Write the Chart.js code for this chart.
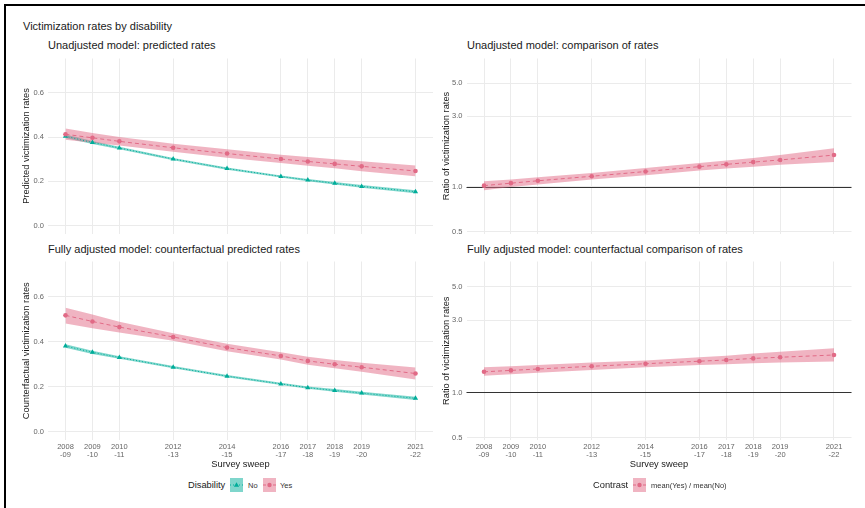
<!DOCTYPE html>
<html>
<head>
<meta charset="utf-8">
<title>Victimization rates by disability</title>
<script src="https://cdn.jsdelivr.net/npm/chart.js@4.4.1/dist/chart.umd.min.js"></script>
<style>
  body { margin: 0; width: 865px; height: 508px; background: #fff; position: relative; overflow: hidden;
         font-family: "Liberation Sans", Arial, sans-serif; }
  .frame { position: absolute; left: 4px; top: 4px; width: 900px; height: 600px;
           border-top: 2px solid #000; border-left: 2px solid #000; }
  canvas { position: absolute; }
  .txt { position: absolute; white-space: nowrap; color: #1a1a1a; line-height: 1; }
  .ttl { font-size: 11px; }
  .lgt { font-size: 9.3px; }
  .lgl { font-size: 7.5px; color: #333; }
  .key { position: absolute; }
</style>
</head>
<body>
<div class="frame"></div>

<div class="txt ttl" style="left:23px; top:20.6px">Victimization rates by disability</div>
<div class="txt ttl" style="left:48px; top:40.2px">Unadjusted model: predicted rates</div>
<div class="txt ttl" style="left:467px; top:40.2px">Unadjusted model: comparison of rates</div>
<div class="txt ttl" style="left:48px; top:243.8px">Fully adjusted model: counterfactual predicted rates</div>
<div class="txt ttl" style="left:467px; top:243.8px">Fully adjusted model: counterfactual comparison of rates</div>

<canvas id="unadjRates" width="440" height="192" style="left:0; top:50px"></canvas>
<canvas id="unadjRatios" width="435" height="192" style="left:430px; top:50px"></canvas>
<canvas id="adjRates" width="440" height="222" style="left:0; top:253px"></canvas>
<canvas id="adjRatios" width="435" height="222" style="left:430px; top:253px"></canvas>

<!-- legends -->
<div class="txt lgt" style="left:188px; top:481.3px">Disability</div>
<svg class="key" style="left:230px; top:478px" width="13" height="14">
  <rect width="13" height="14" fill="rgba(0,173,154,0.5)"/>
  <line x1="0" y1="7" x2="13" y2="7" stroke="#00AD9A" stroke-width="1" stroke-dasharray="1 2"/>
  <polygon points="6.5,4.3 9.1,8.8 3.9,8.8" fill="#00AD9A"/>
</svg>
<div class="txt lgl" style="left:248px; top:481.5px">No</div>
<svg class="key" style="left:263px; top:478px" width="13" height="14">
  <rect width="13" height="14" fill="rgba(225,106,134,0.5)"/>
  <line x1="0" y1="7" x2="13" y2="7" stroke="#E16A86" stroke-width="1" stroke-dasharray="3 2"/>
  <circle cx="6.5" cy="7" r="2.2" fill="#E16A86"/>
</svg>
<div class="txt lgl" style="left:280px; top:481.5px">Yes</div>

<div class="txt lgt" style="left:593px; top:481.3px">Contrast</div>
<svg class="key" style="left:633px; top:478px" width="13" height="14">
  <rect width="13" height="14" fill="rgba(225,106,134,0.5)"/>
  <line x1="0" y1="7" x2="13" y2="7" stroke="#E16A86" stroke-width="1" stroke-dasharray="3 2"/>
  <circle cx="6.5" cy="7" r="2.2" fill="#E16A86"/>
</svg>
<div class="txt lgl" style="left:651px; top:481.5px">mean(Yes) / mean(No)</div>

<script>
// survey sweeps (start year used for x position)
const years = [2008, 2009, 2010, 2012, 2014, 2016, 2017, 2018, 2019, 2021];
const sweepLabels = ['2008-09', '2009-10', '2010-11', '2012-13', '2014-15',
                     '2016-17', '2017-18', '2018-19', '2019-20', '2021-22'];
const rateTicks = [0, 0.2, 0.4, 0.6];
const ratioTicks = [0.5, 1, 3, 5];
const ratioRef = 1;

// Unadjusted model: predicted rates
const unadjYes   = [0.413, 0.397, 0.381, 0.352, 0.326, 0.301, 0.290, 0.279, 0.268, 0.247];
const unadjYesLo = [0.388, 0.375, 0.362, 0.334, 0.307, 0.283, 0.271, 0.259, 0.246, 0.223];
const unadjYesHi = [0.439, 0.419, 0.401, 0.370, 0.345, 0.320, 0.310, 0.300, 0.291, 0.272];
const unadjNo    = [0.404, 0.376, 0.351, 0.301, 0.258, 0.222, 0.206, 0.191, 0.177, 0.153];
const unadjNoLo  = [0.396, 0.369, 0.345, 0.296, 0.253, 0.217, 0.201, 0.186, 0.171, 0.146];
const unadjNoHi  = [0.412, 0.383, 0.357, 0.306, 0.263, 0.227, 0.211, 0.197, 0.183, 0.160];

// Fully adjusted model: counterfactual predicted rates
const adjYes   = [0.517, 0.490, 0.465, 0.421, 0.374, 0.337, 0.315, 0.300, 0.287, 0.259];
const adjYesLo = [0.481, 0.460, 0.441, 0.404, 0.358, 0.321, 0.298, 0.282, 0.267, 0.232];
const adjYesHi = [0.551, 0.521, 0.489, 0.438, 0.391, 0.353, 0.333, 0.319, 0.307, 0.286];
const adjNo    = [0.381, 0.353, 0.330, 0.287, 0.247, 0.213, 0.196, 0.184, 0.172, 0.149];
const adjNoLo  = [0.373, 0.346, 0.324, 0.282, 0.242, 0.208, 0.191, 0.178, 0.166, 0.142];
const adjNoHi  = [0.389, 0.360, 0.336, 0.292, 0.252, 0.218, 0.201, 0.190, 0.178, 0.156];

// ratio mean(Yes) / mean(No)
const unadjRatio   = [1.02, 1.06, 1.10, 1.18, 1.27, 1.37, 1.42, 1.47, 1.52, 1.64];
const unadjRatioLo = [0.95, 1.00, 1.04, 1.12, 1.20, 1.29, 1.33, 1.37, 1.41, 1.47];
const unadjRatioHi = [1.09, 1.12, 1.16, 1.24, 1.34, 1.45, 1.51, 1.57, 1.64, 1.82];
const adjRatio   = [1.37, 1.40, 1.43, 1.49, 1.55, 1.61, 1.64, 1.68, 1.71, 1.77];
const adjRatioLo = [1.29, 1.32, 1.35, 1.41, 1.47, 1.52, 1.54, 1.56, 1.58, 1.60];
const adjRatioHi = [1.47, 1.49, 1.52, 1.58, 1.63, 1.71, 1.75, 1.81, 1.86, 1.96];

const pink = '#E16A86';
const pinkFill = 'rgba(225,106,134,0.5)';
const teal = '#00AD9A';
const tealFill = 'rgba(0,173,154,0.5)';
const gridCol = '#ebebeb';
const fontFam = '"Liberation Sans", Arial, sans-serif';

Chart.defaults.font.family = fontFam;

function pts(vals) {
  return years.map((x, i) => ({ x: x, y: vals[i] }));
}

function band(lo, hi, fillCol, order) {
  return [
    { data: pts(lo), borderWidth: 0, pointRadius: 0, fill: false, order: order },
    { data: pts(hi), borderWidth: 0, pointRadius: 0, fill: '-1', backgroundColor: fillCol, order: order }
  ];
}

function series(vals, col, style, dash, radius, order) {
  return {
    data: pts(vals), borderColor: col, backgroundColor: col, borderWidth: 1, borderDash: dash,
    pointStyle: style, pointRadius: radius, pointBorderWidth: 0, fill: false, tension: 0, order: order
  };
}

// horizontal reference line at ratio 1
const refLine = {
  id: 'refLine',
  beforeDatasetsDraw(chart, args, opts) {
    if (opts.value == null) return;
    const { ctx, chartArea, scales } = chart;
    const y = Math.round(scales.y.getPixelForValue(opts.value)) + 0.5;
    ctx.save();
    ctx.strokeStyle = '#333';
    ctx.lineWidth = 1;
    ctx.beginPath();
    ctx.moveTo(chartArea.left, y);
    ctx.lineTo(chartArea.right, y);
    ctx.stroke();
    ctx.restore();
  }
};

const span = years[years.length - 1] - years[0];

function xScale(showLabels) {
  return {
    type: 'linear',
    min: years[0] - 0.05 * span,
    max: years[years.length - 1] + 0.05 * span,
    afterBuildTicks: s => { s.ticks = years.map(v => ({ value: v })); },
    afterFit: s => { s.height = showLabels ? 35 : 0; },
    grid: { color: gridCol, lineWidth: 1, drawTicks: false },
    border: { display: false },
    ticks: {
      display: showLabels, autoSkip: false, maxRotation: 0, minRotation: 0, padding: 3,
      color: '#666', font: { size: 7.5, lineHeight: 1.05 },
      callback: v => {
        const i = years.indexOf(v);
        return i < 0 ? '' : sweepLabels[i].split(/(?=-)/);
      }
    },
    title: { display: showLabels, text: 'Survey sweep', color: '#1a1a1a', font: { size: 9.3 },
             padding: { top: 0, bottom: 5.4 } }
  };
}

function yScale(type, min, max, tickVals, width, title, titlePad) {
  return {
    type: type, min: min, max: max,
    afterBuildTicks: s => { s.ticks = tickVals.map(v => ({ value: v })); },
    afterFit: s => { s.width = width; },
    grid: { color: gridCol, lineWidth: 1, drawTicks: false },
    border: { display: false },
    ticks: { padding: 4, color: '#666', font: { size: 7.5 }, callback: v => Number(v).toFixed(1) },
    title: { display: true, text: title, color: '#1a1a1a', font: { size: 9.3 },
             padding: { top: titlePad, bottom: 0 } }
  };
}

function makePanel(id, datasets, x, y, padding, ref) {
  new Chart(document.getElementById(id), {
    type: 'line',
    data: { datasets: datasets },
    options: {
      responsive: false, animation: false, devicePixelRatio: 1,
      layout: { padding: padding },
      scales: { x: x, y: y },
      plugins: { legend: { display: false }, tooltip: { enabled: false }, refLine: { value: ref } },
      events: []
    },
    plugins: [refLine]
  });
}

makePanel('unadjRates',
  [...band(unadjNoLo, unadjNoHi, tealFill, 4), ...band(unadjYesLo, unadjYesHi, pinkFill, 3),
   series(unadjNo, teal, 'triangle', [1, 2], 3, 2), series(unadjYes, pink, 'circle', [4, 3], 2.3, 1)],
  xScale(false),
  yScale('linear', -0.036, 0.756, rateTicks, 48, 'Predicted victimization rates', 20.7),
  { top: 7, right: 7, bottom: 5, left: 0 }, null);

makePanel('unadjRatios',
  [...band(unadjRatioLo, unadjRatioHi, pinkFill, 3), series(unadjRatio, pink, 'circle', [4, 3], 2.3, 1)],
  xScale(false),
  yScale('logarithmic', 0.485, 7.35, ratioTicks, 36.5, 'Ratio of victimization rates', 10.4),
  { top: 7, right: 13.5, bottom: 5, left: 0 }, ratioRef);

makePanel('adjRates',
  [...band(adjNoLo, adjNoHi, tealFill, 4), ...band(adjYesLo, adjYesHi, pinkFill, 3),
   series(adjNo, teal, 'triangle', [1, 2], 3, 2), series(adjYes, pink, 'circle', [4, 3], 2.3, 1)],
  xScale(true),
  yScale('linear', -0.036, 0.756, rateTicks, 48, 'Counterfactual victimization rates', 20.7),
  { top: 7, right: 7, bottom: 0, left: 0 }, null);

makePanel('adjRatios',
  [...band(adjRatioLo, adjRatioHi, pinkFill, 3), series(adjRatio, pink, 'circle', [4, 3], 2.3, 1)],
  xScale(true),
  yScale('logarithmic', 0.485, 7.35, ratioTicks, 36.5, 'Ratio of victimization rates', 10.4),
  { top: 7, right: 13.5, bottom: 0, left: 0 }, ratioRef);
</script>
</body>
</html>
